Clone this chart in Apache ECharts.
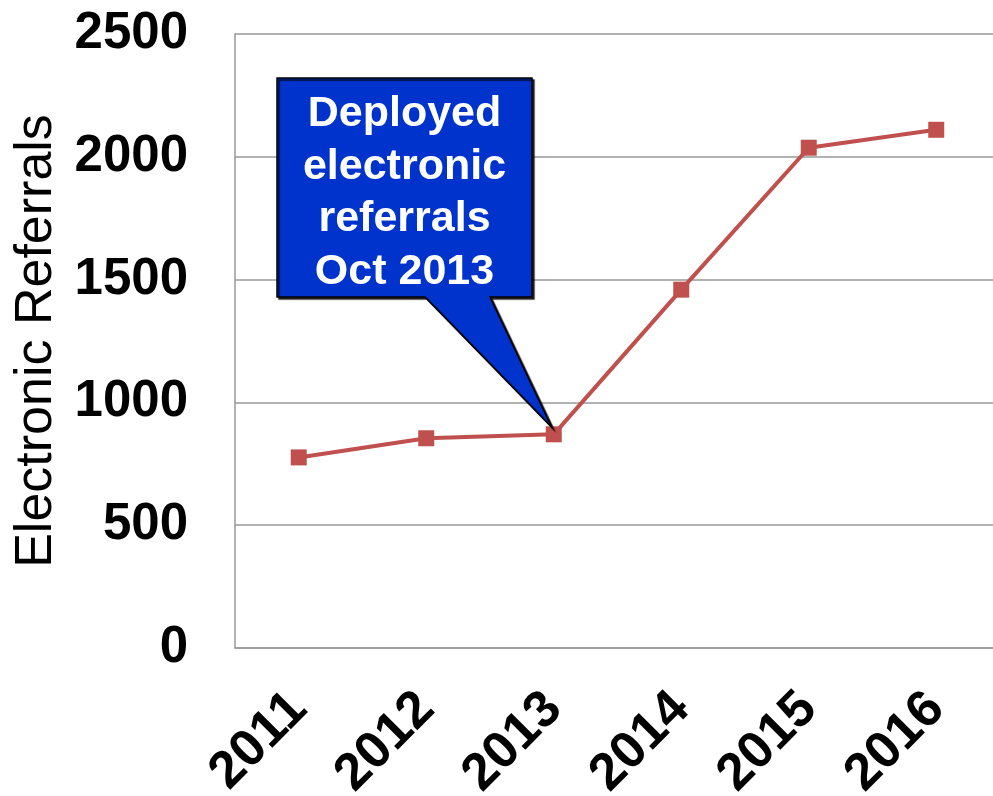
<!DOCTYPE html>
<html>
<head>
<meta charset="utf-8">
<script src="https://cdn.jsdelivr.net/npm/echarts@6/dist/echarts.min.js"></script>
<style>
  html, body { margin: 0; padding: 0; background: #fff; }
  #chart { width: 993px; height: 796px; }
</style>
</head>
<body>
<div id="chart"></div>
<script>
const years = ['2011', '2012', '2013', '2014', '2015', '2016']
const referrals = [776, 854, 870, 1459, 2037, 2110]
const yTicks = [0, 500, 1000, 1500, 2000, 2500]
const calloutLines = ['Deployed', 'electronic', 'referrals', 'Oct 2013']
const calloutYear = '2013'

const chart = echarts.init(document.getElementById('chart'))

const gridColor = '#999999'
const lineColor = '#C0504D'

chart.setOption({
  animation: false,
  grid: { left: 235, top: 34, bottom: 148, width: 765, outerBoundsMode: 'none', containLabel: false },
  xAxis: {
    type: 'category',
    data: years,
    boundaryGap: true,
    axisLine: { lineStyle: { color: gridColor, width: 1.5 } },
    axisTick: { show: false },
    axisLabel: {
      rotate: 45,
      margin: 53,
      color: '#000',
      fontFamily: 'Liberation Sans, Arial, sans-serif',
      fontWeight: 'bold',
      fontSize: 52
    }
  },
  yAxis: {
    type: 'value',
    min: yTicks[0],
    max: yTicks[yTicks.length - 1],
    interval: 500,
    name: 'Electronic Referrals',
    nameLocation: 'middle',
    nameGap: 172,
    nameTextStyle: {
      color: '#000',
      fontFamily: 'Liberation Sans, Arial, sans-serif',
      fontSize: 52
    },
    axisLine: { show: true, lineStyle: { color: gridColor, width: 1.5 } },
    axisTick: { show: false },
    splitLine: { lineStyle: { color: gridColor, width: 1.5 } },
    axisLabel: {
      margin: 47,
      color: '#000',
      fontFamily: 'Liberation Sans, Arial, sans-serif',
      fontWeight: 'bold',
      fontSize: 51,
      formatter: (v) => String(v)
    }
  },
  series: [{
    type: 'line',
    data: referrals,
    symbol: 'rect',
    symbolSize: 16,
    lineStyle: { color: lineColor, width: 4 },
    itemStyle: { color: lineColor }
  }]
})

// callout pointing at the 2013 point
const idx = years.indexOf(calloutYear)
const tip = chart.convertToPixel({ seriesIndex: 0 }, [idx, referrals[idx]])
const box = { x1: 277, y1: 78, x2: 532, y2: 297 }
const tipX = tip[0] - 2
const tipY = tip[1] - 7

chart.setOption({
  graphic: [
    {
      type: 'polygon',
      z: 100,
      shape: {
        points: [
          [box.x1, box.y1], [box.x2, box.y1], [box.x2, box.y2],
          [490, box.y2], [tipX, tipY], [425, box.y2], [box.x1, box.y2]
        ]
      },
      style: {
        fill: '#0033CC',
        stroke: '#000',
        lineWidth: 1.5,
        shadowColor: 'rgba(0,0,0,0.8)',
        shadowOffsetX: 2,
        shadowOffsetY: 2,
        shadowBlur: 1
      }
    },
    {
      type: 'text',
      z: 101,
      x: (box.x1 + box.x2) / 2,
      y: 193,
      style: {
        text: calloutLines.join('\n'),
        fill: '#fff',
        font: 'bold 43px "Liberation Sans", Arial, sans-serif',
        lineHeight: 52.5,
        align: 'center',
        verticalAlign: 'middle'
      }
    }
  ]
})
</script>
</body>
</html>
